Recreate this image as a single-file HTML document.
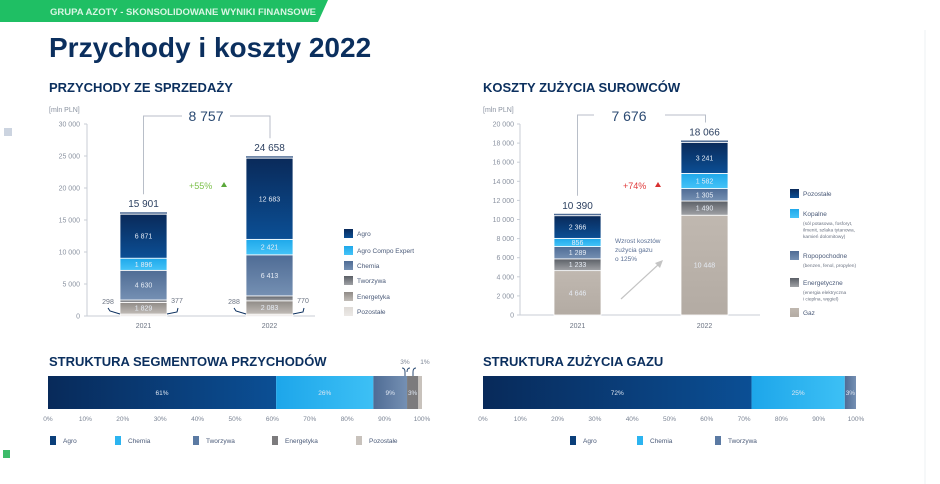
<!DOCTYPE html>
<html><head><meta charset="utf-8">
<style>
body{margin:0;background:#fff;font-family:"Liberation Sans",sans-serif;}
#root{position:relative;width:940px;height:484px;overflow:hidden;background:#fff;}
svg text{font-family:"Liberation Sans",sans-serif;}
</style></head>
<body>
<div id="root">
<svg id="svg" width="940" height="484" viewBox="0 0 940 484" xmlns="http://www.w3.org/2000/svg">
<defs>
<linearGradient id="gAgro" x1="0" y1="0" x2="0" y2="1"><stop offset="0" stop-color="#0a2a5a"/><stop offset="1" stop-color="#0b4f95"/></linearGradient>
<linearGradient id="gAce" x1="0" y1="0" x2="0" y2="1"><stop offset="0" stop-color="#1fa8ea"/><stop offset="1" stop-color="#45c4f8"/></linearGradient>
<linearGradient id="gChem" x1="0" y1="0" x2="0" y2="1"><stop offset="0" stop-color="#4f6c95"/><stop offset="1" stop-color="#7590b3"/></linearGradient>
<linearGradient id="gTw" x1="0" y1="0" x2="0" y2="1"><stop offset="0" stop-color="#5b5f66"/><stop offset="1" stop-color="#a0a2a6"/></linearGradient>
<linearGradient id="gEn" x1="0" y1="0" x2="0" y2="1"><stop offset="0" stop-color="#8f8a86"/><stop offset="1" stop-color="#c1bcb7"/></linearGradient>
<linearGradient id="gPoz" x1="0" y1="0" x2="0" y2="1"><stop offset="0" stop-color="#dedad6"/><stop offset="1" stop-color="#ece9e6"/></linearGradient>
<linearGradient id="gGaz" x1="0" y1="0" x2="0" y2="1"><stop offset="0" stop-color="#c0b8b0"/><stop offset="1" stop-color="#b3aba3"/></linearGradient>
<linearGradient id="hAgro" x1="0" y1="0" x2="1" y2="0"><stop offset="0" stop-color="#082a5a"/><stop offset="1" stop-color="#0b4f95"/></linearGradient>
<linearGradient id="hChem" x1="0" y1="0" x2="1" y2="0"><stop offset="0" stop-color="#1da6ea"/><stop offset="1" stop-color="#3dc0f5"/></linearGradient>
<linearGradient id="hTw" x1="0" y1="0" x2="1" y2="0"><stop offset="0" stop-color="#4f6c95"/><stop offset="1" stop-color="#7590b3"/></linearGradient>
</defs>
<polygon points="0,0 328,0 318,22 0,22" fill="#1fbf64"/>
<text x="50" y="15" font-size="9.5" font-weight="bold" fill="#d8f5e3">GRUPA AZOTY - SKONSOLIDOWANE WYNIKI FINANSOWE</text>
<text x="49" y="57" font-size="28" font-weight="bold" fill="#0b2f5e">Przychody i koszty 2022</text>
<rect x="4" y="128" width="8" height="8" fill="#ccd4e0"/>
<rect x="3" y="450" width="7" height="8" fill="#3dbb6a"/>
<line x1="925" y1="30" x2="925" y2="484" stroke="#eef0f3"/>
<text x="49" y="92" font-size="13" font-weight="bold" fill="#0b2f5e">PRZYCHODY ZE SPRZEDAŻY</text>
<text x="483" y="92" font-size="13" font-weight="bold" fill="#0b2f5e">KOSZTY ZUŻYCIA SUROWCÓW</text>
<text x="49" y="366" font-size="13" font-weight="bold" fill="#0b2f5e">STRUKTURA SEGMENTOWA PRZYCHODÓW</text>
<text x="483" y="366" font-size="13" font-weight="bold" fill="#0b2f5e">STRUKTURA ZUŻYCIA GAZU</text>
<g id="charts"></g>
</svg>
</div>
<script>
// Revenue chart data
const revYears = ["2021","2022"];
const revSeries = ["Pozostałe","Energetyka","Tworzywa","Chemia","Agro Compo Expert","Agro"];
const rev2021 = [298,1829,377,4630,1896,6871];
const rev2022 = [288,2083,770,6413,2421,12683];
const revTotals = ["15 901","24 658"];
const revTicks = [0,5000,10000,15000,20000,25000,30000];
// Cost chart data
const costYears = ["2021","2022"];
const costSeries = ["Gaz","Energetyczne","Ropopochodne","Kopalne","Pozostałe"];
const cost2021 = [4646,1233,1289,856,2366];
const cost2022 = [10448,1490,1305,1582,3241];
const costTotals = ["10 390","18 066"];
const costTicks = [0,2000,4000,6000,8000,10000,12000,14000,16000,18000,20000];
// Structure bars
const segNames = ["Agro","Chemia","Tworzywa","Energetyka","Pozostałe"];
const segValues = [61,26,9,3,1];
const gasNames = ["Agro","Chemia","Tworzywa"];
const gasValues = [72,25,3];
const pctTicks = [0,10,20,30,40,50,60,70,80,90,100];

const NS="http://www.w3.org/2000/svg";
const G=document.getElementById('charts');
function mk(tag,attrs,parent){const e=document.createElementNS(NS,tag);for(const k in attrs)e.setAttribute(k,attrs[k]);(parent||G).appendChild(e);return e;}
function txt(x,y,s,size,fill,anchor,parent){const t=mk('text',{x:x,y:y,'font-size':size,fill:fill,'text-anchor':anchor||'start'},parent);t.textContent=s;return t;}
function fmt(v){return String(v).replace(/\B(?=(\d{3})+(?!\d))/g,' ');}

// ---------- Revenue chart ----------
(function(){
  const y0=316,y1=124,max=30000;
  const yS=v=>y0-(v/max)*(y0-y1);
  const xs=[120,246],w=47;
  const fills=["url(#gPoz)","url(#gEn)","url(#gTw)","url(#gChem)","url(#gAce)","url(#gAgro)"];
  const g=mk('g',{});
  
  
  const ax=mk('line',{x1:87,y1:y1,x2:87,y2:y0,stroke:'#c9ced6'},g);
  
  const bl=mk('line',{x1:87,y1:y0,x2:315,y2:y0,stroke:'#c9ced6'},g);
  
  const u=txt(49,112,'[mln PLN]',7,'#8a92a0','start',g);
  
  revTicks.forEach(v=>{
    const t=txt(80,yS(v)+2.5,fmt(v),7,'#8a92a0','end',g);
    
    mk('line',{x1:84,y1:yS(v),x2:87,y2:yS(v),stroke:'#c9ced6'},g);
  });
  [rev2021,rev2022].forEach((vals,i)=>{
    let acc=0;
    vals.forEach((v,j)=>{
      const r=mk('rect',{x:xs[i],y:yS(acc+v),width:w,height:yS(acc)-yS(acc+v),fill:fills[j],stroke:'#fff','stroke-width':0.8},g);
      
      
      if(j>=1 && j!=2){
        const l=txt(xs[i]+w/2,(yS(acc)+yS(acc+v))/2+2.5,fmt(v),7,'#e6ecf5','middle',g);
        
      }
      acc+=v;
    });
    const cap=mk('rect',{x:xs[i],y:yS(acc)-2,width:w,height:1.5,fill:j=>0},g);
    cap.setAttribute('fill','#4f6c95');
    
    const tl=txt(xs[i]+w/2,yS(acc)-7,revTotals[i],10,'#2b3f5f','middle',g);
    
    const xl=txt(xs[i]+w/2,328,revYears[i],7,'#6b7382','middle',g);
    
    // small side labels
    const sl=txt(xs[i]-12,304,fmt(vals[0]),7,'#6b7382','middle',g);
    
    const sr=txt(xs[i]+w+10,303,fmt(vals[2]),7,'#6b7382','middle',g);
    
    mk('path',{d:`M${xs[i]-12} 308 l2 3 l10 3`,stroke:'#0b2f5e',fill:'none','stroke-width':1},g);
    mk('path',{d:`M${xs[i]+w+11} 308 l-1 4 l-10 2`,stroke:'#0b2f5e',fill:'none','stroke-width':1},g);
  });
  const topA=yS(rev2021.reduce((a,b)=>a+b,0))-20, topB=yS(rev2022.reduce((a,b)=>a+b,0))-20;
  mk('path',{d:`M143.5 ${topA} V116 H182 M230 116 H270 V${topB}`,stroke:'#b8bec8',fill:'none'},g);
  const d=txt(206,121,'8 757',14,'#2b4a72','middle',g);
  
  const p=txt(189,189,'+55%',9,'#7cc04a','start',g);
  
  mk('polygon',{points:'221,187 224,182 227,187',fill:'#5aa83a'},g);
  // legend
  const legNames=["Agro","Agro Compo Expert","Chemia","Tworzywa","Energetyka","Pozostałe"];
  const legFills=["url(#gAgro)","url(#gAce)","url(#gChem)","url(#gTw)","url(#gEn)","url(#gPoz)"];
  const legY=[229,246,261,276,292,307];
  legNames.forEach((n,k)=>{
    const lg=mk('g',{},g);
    
    mk('rect',{x:344,y:legY[k],width:9,height:9,fill:legFills[k]},lg);
    txt(357,legY[k]+7,n,6.5,'#4a5a78','start',lg);
  });
})();

// ---------- Cost chart ----------
(function(){
  const y0=315,y1=124,max=20000;
  const yS=v=>y0-(v/max)*(y0-y1);
  const xs=[554,681],w=47;
  const fills=["url(#gGaz)","url(#gTw)","url(#gChem)","url(#gAce)","url(#gAgro)"];
  const g=mk('g',{});
  
  
  const ax=mk('line',{x1:520,y1:y1,x2:520,y2:y0,stroke:'#c9ced6'},g);
  
  const bl=mk('line',{x1:520,y1:y0,x2:760,y2:y0,stroke:'#c9ced6'},g);
  
  const u=txt(483,112,'[mln PLN]',7,'#8a92a0','start',g);
  
  costTicks.forEach(v=>{
    const t=txt(514,yS(v)+2.5,fmt(v),7,'#8a92a0','end',g);
    
    mk('line',{x1:517,y1:yS(v),x2:520,y2:yS(v),stroke:'#c9ced6'},g);
  });
  [cost2021,cost2022].forEach((vals,i)=>{
    let acc=0;
    vals.forEach((v,j)=>{
      const r=mk('rect',{x:xs[i],y:yS(acc+v),width:w,height:yS(acc)-yS(acc+v),fill:fills[j],stroke:'#fff','stroke-width':0.8},g);
      
      
      const l=txt(xs[i]+w/2,(yS(acc)+yS(acc+v))/2+2.5,fmt(v),7,'#e6ecf5','middle',g);
      
      acc+=v;
    });
    const cap=mk('rect',{x:xs[i],y:yS(acc)-2,width:w,height:1.5,fill:'#4f6c95'},g);
    
    const tl=txt(xs[i]+w/2,yS(acc)-7,costTotals[i],10,'#2b3f5f','middle',g);
    
    const xl=txt(xs[i]+w/2,328,costYears[i],7,'#6b7382','middle',g);
    
  });
  const topA=yS(cost2021.reduce((a,b)=>a+b,0))-20, topB=yS(cost2022.reduce((a,b)=>a+b,0))-20;
  mk('path',{d:`M577.5 ${topA} V115 H594 M665 115 H705.5 V${topB}`,stroke:'#b8bec8',fill:'none'},g);
  const d=txt(629,121,'7 676',14,'#2b4a72','middle',g);
  
  const p=txt(623,189,'+74%',9,'#e03a3a','start',g);
  
  mk('polygon',{points:'655,187 658,182 661,187',fill:'#d83030'},g);
  const an=mk('g',{},g);
  
  txt(615,243,'Wzrost kosztów',6.5,'#5a6f94','start',an);
  txt(615,252,'zużycia gazu',6.5,'#5a6f94','start',an);
  txt(615,261,'o 125%',6.5,'#5a6f94','start',an);
  mk('line',{x1:621,y1:299,x2:659,y2:264,stroke:'#c4c4c4','stroke-width':1.2},an);
  mk('polygon',{points:'663,260 655,263 660,268',fill:'#c4c4c4'},an);
  const legNames=["Pozostałe","Kopalne","Ropopochodne","Energetyczne","Gaz"];
  const legSub=[[],["(sól potasowa, fosforyt,","ilmenit, szlaka tytanowa,","kamień dolomitowy)"],["(benzen, fenol, propylen)"],["(energia elektryczna","i cieplna, węgiel)"],[]];
  const legFills=["url(#gAgro)","url(#gAce)","url(#gChem)","url(#gTw)","url(#gGaz)"];
  const legY=[189,209,251,278,308];
  legNames.forEach((n,k)=>{
    const lg=mk('g',{},g);
    
    mk('rect',{x:790,y:legY[k],width:9,height:9,fill:legFills[k]},lg);
    txt(803,legY[k]+7,n,6.5,'#4a5a78','start',lg);
    legSub[k].forEach((s,m)=>txt(803,legY[k]+16+m*6.5,s,4.8,'#6b7382','start',lg));
  });
})();

// ---------- Horizontal structure bars ----------
function hbar(names,vals,x0,x1,name,legX,fills,legFills){
  const g=mk('g',{});
  
  
  const xS=v=>x0+(v/100)*(x1-x0);
  let acc=0;
  vals.forEach((v,j)=>{
    const r=mk('rect',{x:xS(acc),y:376,width:xS(acc+v)-xS(acc),height:33,fill:fills[j]},g);
    
    
    if(v>=3){const l=txt((xS(acc)+xS(acc+v))/2,395,v+'%',6.5,'#dfe7f2','middle',g);
      }
    acc+=v;
  });
  pctTicks.forEach(t=>{
    const l=txt(xS(t),421,t+'%',6.5,'#7b8494','middle',g);
    
  });
  names.forEach((n,k)=>{
    const lg=mk('g',{},g);
    
    mk('rect',{x:legX[k],y:436,width:6,height:9,fill:legFills[k]},lg);
    txt(legX[k]+13,443,n,6.5,'#4a5a78','start',lg);
  });
  return g;
}
const segFills=["url(#hAgro)","url(#hChem)","url(#hTw)","#7c7b7d","#c8c2bc"];
const segLeg=["#0b3f7a","#2cb4f0","#5b7aa3","#7c7b7d","#c8c2bc"];
const sg=hbar(segNames,segValues,48,422,'segment-bar',[50,115,193,272,356],segFills,segLeg);
txt(405,364,'3%',6.5,'#7b8494','middle',sg);
txt(425,364,'1%',6.5,'#7b8494','middle',sg);
mk('path',{d:'M402 368 q3 0 3 4 v4 M410 368 q-3 0 -3 4 M413 376 v-4 q0 -4 3 -4',stroke:'#2b4a72',fill:'none'},sg);
hbar(gasNames,gasValues,483,856,'gas-bar',[570,637,715],["url(#hAgro)","url(#hChem)","url(#hTw)"],["#0b3f7a","#2cb4f0","#5b7aa3"]);
</script>
</body></html>
